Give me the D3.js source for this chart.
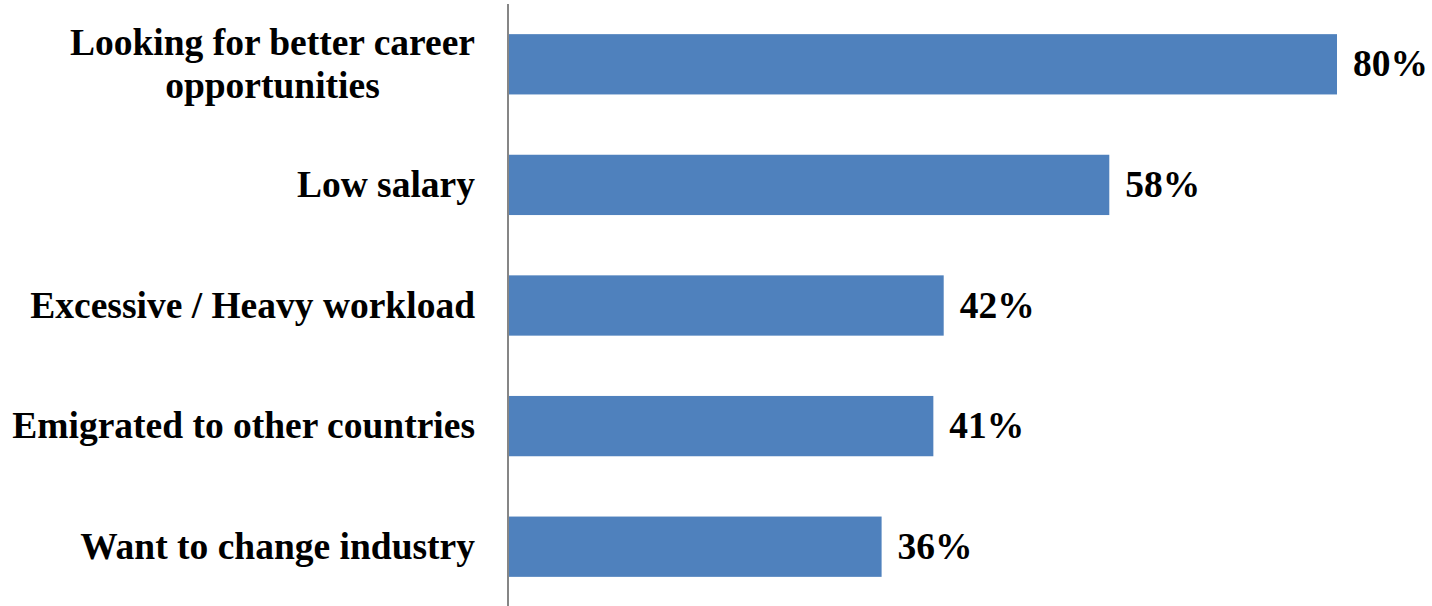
<!DOCTYPE html>
<html>
<head>
<meta charset="utf-8">
<script src="https://cdn.jsdelivr.net/npm/d3@7"></script>
<style>
  html, body { margin: 0; padding: 0; background: #ffffff; }
  svg { display: block; }
</style>
</head>
<body>
<svg id="chart" width="1432" height="606"></svg>
<script>
// Reasons for leaving, share of respondents (%)
const categories = [
  "Looking for better career opportunities",
  "Low salary",
  "Excessive / Heavy workload",
  "Emigrated to other countries",
  "Want to change industry"
];
const values = [80, 58, 42, 41, 36];
// Category labels broken into display lines
const labelLines = [
  ["Looking for better career", "opportunities"],
  ["Low salary"],
  ["Excessive / Heavy workload"],
  ["Emigrated to other countries"],
  ["Want to change industry"]
];

const svg = d3.select("#chart");
const font = "'Liberation Serif', 'Times New Roman', serif";
const fontSize = 37.5;
const axisX = 508;
const labelRight = 475;

const x = d3.scaleLinear().domain([0, 80]).range([axisX + 1, 1337]);
const y = d3.scaleBand()
  .domain(categories)
  .range([4, 607])
  .paddingInner(0.5)
  .paddingOuter(0.25);

// Bars
svg.append("g")
  .selectAll("rect")
  .data(categories)
  .join("rect")
  .attr("x", x(0))
  .attr("y", d => y(d))
  .attr("width", (d, i) => x(values[i]) - x(0))
  .attr("height", y.bandwidth())
  .attr("fill", "#4f81bd");

// Vertical category axis line
svg.append("line")
  .attr("x1", axisX).attr("x2", axisX)
  .attr("y1", 4).attr("y2", 606)
  .attr("stroke", "#868686")
  .attr("stroke-width", 2);

// Value labels
svg.append("g")
  .selectAll("text")
  .data(categories)
  .join("text")
  .attr("x", (d, i) => x(values[i]) + 16)
  .attr("y", d => y(d) + y.bandwidth() / 2 + 12)
  .attr("font-family", font)
  .attr("font-weight", "bold")
  .attr("font-size", fontSize)
  .attr("fill", "#000")
  .text((d, i) => values[i] + "%");

// Category labels: the block is right-aligned to the axis, lines centred within it
const lineHeight = 42.5;
const catG = svg.append("g");
categories.forEach((c, i) => {
  const lines = labelLines[i];
  const cy = y(c) + y.bandwidth() / 2 + 12;
  const t = catG.append("text")
    .attr("font-family", font)
    .attr("font-weight", "bold")
    .attr("font-size", fontSize)
    .attr("fill", "#000");
  const spans = lines.map((ln, j) =>
    t.append("tspan")
      .attr("y", cy + (j - (lines.length - 1) / 2) * lineHeight)
      .text(ln)
  );
  const widest = d3.max(spans, s => s.node().getComputedTextLength());
  t.attr("text-anchor", "middle");
  spans.forEach(s => s.attr("x", labelRight - widest / 2));
});
</script>
</body>
</html>
